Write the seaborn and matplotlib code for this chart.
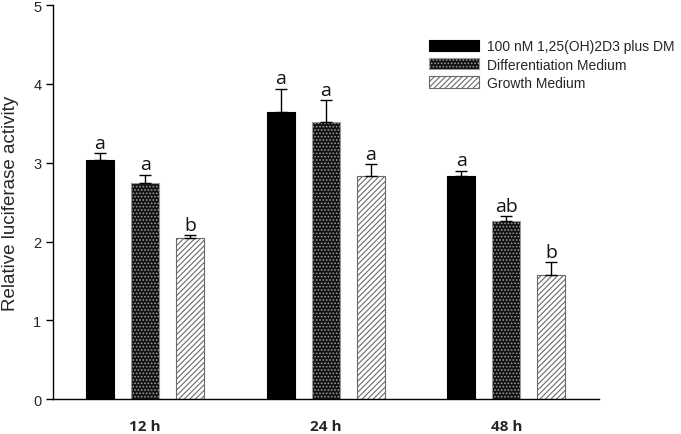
import pandas as pd
import matplotlib.pyplot as plt
import seaborn as sns
from matplotlib.patches import Patch

sns.set_theme(style="white")
plt.rcParams["font.family"] = ["Liberation Sans", "DejaVu Sans"]
plt.rcParams["hatch.linewidth"] = 0.8

tiempos = ["12 h", "24 h", "48 h"]
tratamientos = ["100 nM 1,25(OH)2D3 plus DM", "Differentiation Medium", "Growth Medium"]
medias = {
    "100 nM 1,25(OH)2D3 plus DM": [3.03, 3.64, 2.83],
    "Differentiation Medium": [2.74, 3.52, 2.26],
    "Growth Medium": [2.04, 2.83, 1.57],
}
errores = {
    "100 nM 1,25(OH)2D3 plus DM": [0.09, 0.30, 0.07],
    "Differentiation Medium": [0.11, 0.27, 0.06],
    "Growth Medium": [0.04, 0.15, 0.17],
}
letras = {
    "100 nM 1,25(OH)2D3 plus DM": ["a", "a", "a"],
    "Differentiation Medium": ["a", "a", "ab"],
    "Growth Medium": ["b", "a", "b"],
}

filas = []
for trat in tratamientos:
    for t, m in zip(tiempos, medias[trat]):
        filas.append({"tiempo": t, "tratamiento": trat, "valor": m})
df = pd.DataFrame(filas)

estilos = {
    "100 nM 1,25(OH)2D3 plus DM": dict(facecolor="black", edgecolor="black", hatch=None),
    "Differentiation Medium": dict(facecolor="#111111", edgecolor="#9a9a9a", hatch="....."),
    "Growth Medium": dict(facecolor="white", edgecolor="#6a6a6a", hatch="//////"),
}

fig = plt.figure(figsize=(6.81, 4.35), dpi=100)
ax = fig.add_axes([0.078, 0.080, 0.802, 0.906])

sns.barplot(data=df, x="tiempo", y="valor", hue="tratamiento", order=tiempos,
            hue_order=tratamientos, width=0.75, gap=0.38, legend=False,
            palette=["black", "#111111", "white"], ax=ax)

for cont, trat in zip(ax.containers, tratamientos):
    est = estilos[trat]
    for i, barra in enumerate(cont):
        barra.set_facecolor(est["facecolor"])
        barra.set_edgecolor(est["edgecolor"])
        barra.set_linewidth(0.8)
        if est["hatch"]:
            barra.set_hatch(est["hatch"])
        x = barra.get_x() + barra.get_width() / 2
        y = barra.get_height()
        e = errores[trat][i]
        ax.errorbar(x, y, yerr=[[0], [e]], fmt="none", ecolor="black",
                    elinewidth=1, capsize=4, capthick=1)
        ax.text(x, y + e + 0.015, letras[trat][i], ha="center", va="bottom",
                fontsize=14, family=["Open Sans", "DejaVu Sans"], color="#111111")

ax.set_ylim(0, 5)
ax.set_xlim(-0.51, 2.515)
ax.set_yticks([0, 1, 2, 3, 4, 5])
ax.set_xlabel("")
ax.set_ylabel("Relative luciferase activity", fontsize=13.5, labelpad=10)
ax.tick_params(axis="y", direction="out", length=5, width=1, labelsize=10.5, color="black", left=True)
ax.tick_params(axis="x", length=0, pad=14)
for lab in ax.get_xticklabels():
    lab.set_fontweight("bold")
    lab.set_fontsize(11)
    lab.set_family(["Open Sans", "DejaVu Sans"])

sns.despine(ax=ax, top=True, right=True)
for lado in ["left", "bottom"]:
    ax.spines[lado].set_color("black")
    ax.spines[lado].set_linewidth(1)

manejadores = [Patch(facecolor=estilos[t]["facecolor"], edgecolor=estilos[t]["edgecolor"],
                     hatch=estilos[t]["hatch"], linewidth=0.8, label=t) for t in tratamientos]
fig.legend(handles=manejadores, loc="upper left", bbox_to_anchor=(0.622, 0.92),
           frameon=False, fontsize=10, handlelength=3.6, handleheight=0.9,
           handletextpad=0.55, labelspacing=0.3, borderaxespad=0)

fig.savefig("out.png", dpi=100)
